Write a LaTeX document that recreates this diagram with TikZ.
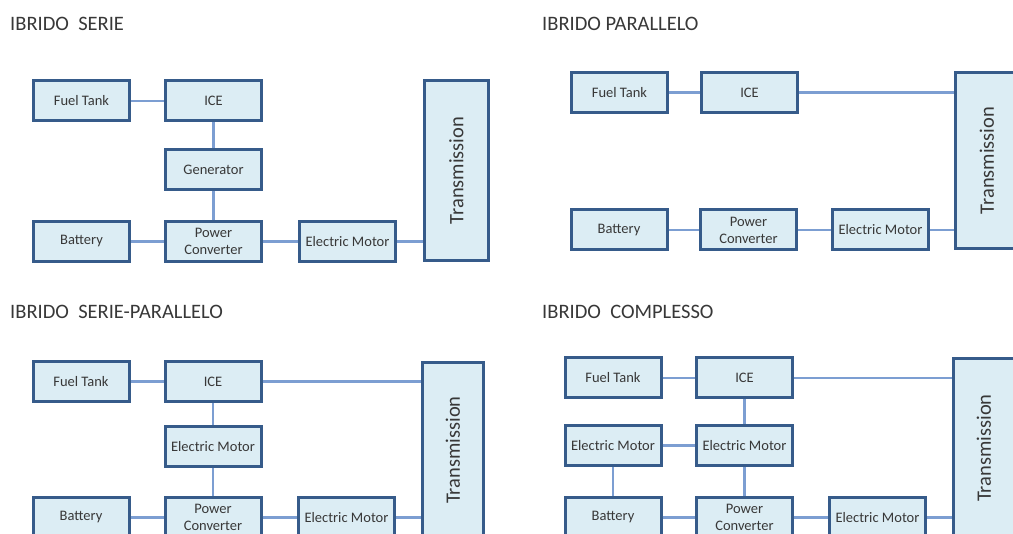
\documentclass[tikz,border=0pt]{standalone}
\usepackage{fontspec}
\setmainfont{Carlito}
\definecolor{boxborder}{HTML}{365B8A}
\definecolor{boxfill}{HTML}{DCEDF4}
\definecolor{linkcol}{HTML}{7C9ED2}
\definecolor{textgray}{HTML}{383838}
\tikzset{
  box/.style={draw=boxborder, line width=3pt, fill=boxfill, inner sep=0pt,
    minimum width=96pt, minimum height=40pt, align=center, text=textgray,
    font=\fontsize{14.5}{17}\selectfont},
  trans/.style={box, rotate=90, font=\fontsize{20.5}{22}\selectfont},
  title/.style={anchor=base west, inner sep=0pt, text=textgray,
    font=\fontsize{20.5}{22}\selectfont},
  link/.style={draw=linkcol, line width=2.2pt}
}
\begin{document}
\begin{tikzpicture}[x=1pt,y=-1pt]
\clip (0,0) rectangle (1013,534);
\fill[white] (0,0) rectangle (1013,534);

% ---------------- IBRIDO SERIE ----------------
\node[title] (t1) at (10,31) {IBRIDO~ SERIE};
\node[box] (a1) at (81.5,101) {Fuel Tank};
\node[box] (a2) at (213.5,101) {ICE};
\node[box] (a3) at (213.5,169.5) {Generator};
\node[box] (a4) at (81.5,241.5) {Battery};
\node[box] (a5) at (213.5,241.5) {Power\\Converter};
\node[box] (a6) at (347.5,241.5) {Electric\ Motor};
\node[trans, minimum width=180pt, minimum height=64pt] (a7) at (456.5,170.5) {Transmission};
\draw[link] (a1.east) -- (a2.west);
\draw[link] (a2.south) -- (a3.north);
\draw[link] (a3.south) -- (a5.north);
\draw[link] (a4.east) -- (a5.west);
\draw[link] (a5.east) -- (a6.west);
\draw[link] (a6.east) -- (a6.east -| a7.north);

% ---------------- IBRIDO PARALLELO ----------------
\node[title] (t2) at (542,31) {IBRIDO PARALLELO};
\node[box] (b1) at (619.5,92.5) {Fuel Tank};
\node[box] (b2) at (749.5,92.5) {ICE};
\node[box] (b4) at (619,230) {Battery};
\node[box] (b5) at (748.5,230) {Power\\Converter};
\node[box] (b6) at (880.5,230) {Electric Motor};
\node[trans, minimum width=176pt, minimum height=63pt] (b7) at (987,160.5) {Transmission};
\draw[link] (b1.east) -- (b2.west);
\draw[link] (b2.east) -- (b2.east -| b7.north);
\draw[link] (b4.east) -- (b5.west);
\draw[link] (b5.east) -- (b6.west);
\draw[link] (b6.east) -- (b6.east -| b7.north);

% ---------------- IBRIDO SERIE-PARALLELO ----------------
\node[title] (t3) at (10,319) {IBRIDO~ SERIE-PARALLELO};
\node[box] (c1) at (81,381.5) {Fuel Tank};
\node[box] (c2) at (213,381.5) {ICE};
\node[box] (c3) at (213,447) {Electric Motor};
\node[box] (c4) at (81,517.5) {Battery};
\node[box] (c5) at (213,517.5) {Power\\Converter};
\node[box] (c6) at (346.5,517.5) {Electric Motor};
\node[trans, minimum width=175pt, minimum height=61pt] (c7) at (453,450) {Transmission};
\draw[link] (c1.east) -- (c2.west);
\draw[link] (c2.east) -- (c2.east -| c7.north);
\draw[link] (c2.south) -- (c3.north);
\draw[link] (c3.south) -- (c5.north);
\draw[link] (c4.east) -- (c5.west);
\draw[link] (c5.east) -- (c6.west);
\draw[link] (c6.east) -- (c6.east -| c7.north);

% ---------------- IBRIDO COMPLESSO ----------------
\node[title] (t4) at (542,319) {IBRIDO~ COMPLESSO};
\node[box] (d1) at (613,378) {Fuel Tank};
\node[box] (d2) at (744.5,378) {ICE};
\node[box] (d3) at (613,445.5) {Electric Motor};
\node[box] (d8) at (744.5,445.5) {Electric Motor};
\node[box] (d4) at (613,517.5) {Battery};
\node[box] (d5) at (744.5,517.5) {Power\\Converter};
\node[box] (d6) at (877.5,517.5) {Electric Motor};
\node[trans, minimum width=179pt, minimum height=61pt] (d7) at (984,448) {Transmission};
\draw[link] (d1.east) -- (d2.west);
\draw[link] (d2.east) -- (d2.east -| d7.north);
\draw[link] (d2.south) -- (d8.north);
\draw[link] (d3.east) -- (d8.west);
\draw[link] (d3.south) -- (d4.north);
\draw[link] (d8.south) -- (d5.north);
\draw[link] (d4.east) -- (d5.west);
\draw[link] (d5.east) -- (d6.west);
\draw[link] (d6.east) -- (d6.east -| d7.north);
\end{tikzpicture}
\end{document}
